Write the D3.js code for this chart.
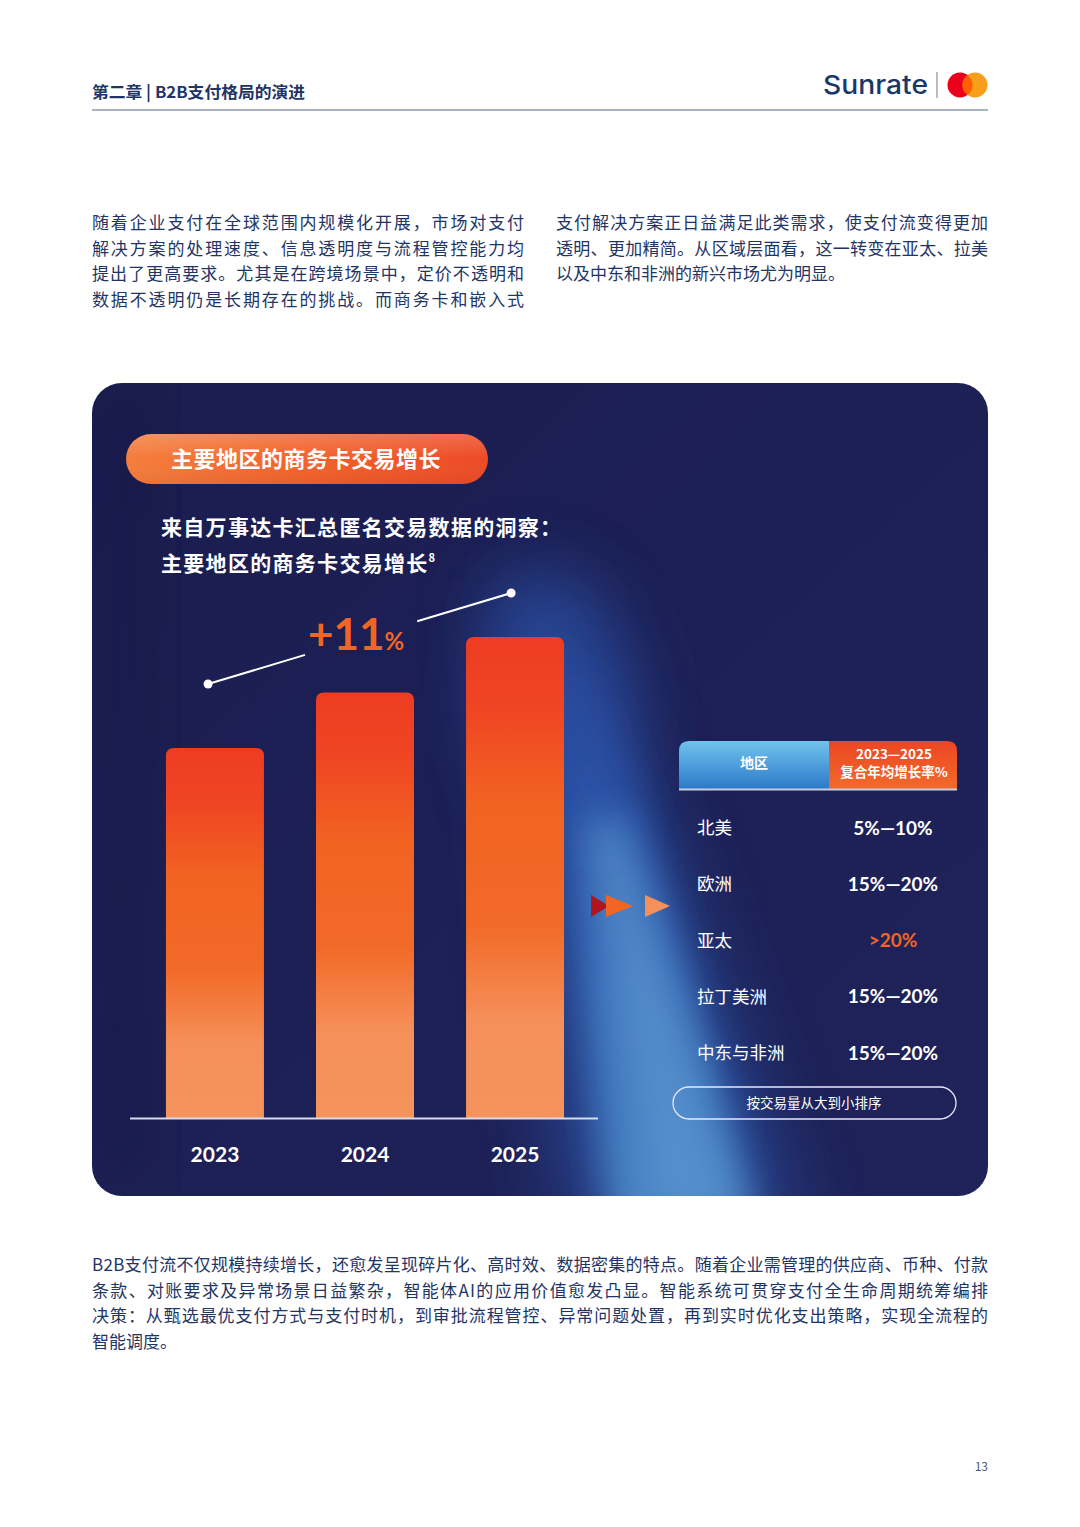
<!DOCTYPE html>
<html><head><meta charset="utf-8">
<script src="https://cdn.jsdelivr.net/npm/d3@7"></script>
<style>
html,body{margin:0;padding:0;background:#fff;}
svg{display:block;font-family:"Noto Sans CJK SC","Noto Sans",sans-serif;}
</style></head>
<body><svg id="c" width="1080" height="1527"></svg>
<script>
// ---------- data ----------
const years = ["2023", "2024", "2025"];
const volumeIndex = [100, 115, 130];          // relative transaction volume (2023 = 100)
const growthLabel = "+11";
const regions = ["北美", "欧洲", "亚太", "拉丁美洲", "中东与非洲"];
const cagr = ["5%—10%", "15%—20%", ">20%", "15%—20%", "15%—20%"];
const highlightRegion = "亚太";
const tableHeaders = ["地区", "2023—2025", "复合年均增长率%"];
const sortNote = "按交易量从大到小排序";
const chapterTitle = "第二章 | B2B支付格局的演进";
const pillTitle = "主要地区的商务卡交易增长";
const subtitleLines = ["来自万事达卡汇总匿名交易数据的洞察：", "主要地区的商务卡交易增长"];
const leftParagraph = [
  "随着企业支付在全球范围内规模化开展，市场对支付",
  "解决方案的处理速度、信息透明度与流程管控能力均",
  "提出了更高要求。尤其是在跨境场景中，定价不透明和",
  "数据不透明仍是长期存在的挑战。而商务卡和嵌入式"];
const rightParagraph = [
  "支付解决方案正日益满足此类需求，使支付流变得更加",
  "透明、更加精简。从区域层面看，这一转变在亚太、拉美",
  "以及中东和非洲的新兴市场尤为明显。"];
const bottomParagraph = [
  "B2B支付流不仅规模持续增长，还愈发呈现碎片化、高时效、数据密集的特点。随着企业需管理的供应商、币种、付款",
  "条款、对账要求及异常场景日益繁杂，智能体AI的应用价值愈发凸显。智能系统可贯穿支付全生命周期统筹编排",
  "决策：从甄选最优支付方式与支付时机，到审批流程管控、异常问题处置，再到实时优化支出策略，实现全流程的",
  "智能调度。"];

// ---------- drawing ----------
const svg = d3.select("#c");
const NAVY = "#1f3566";
const defs = svg.append("defs");

function lg(id, stops, x2 = 0, y2 = 1) {
  const g = defs.append("linearGradient").attr("id", id)
    .attr("x1", 0).attr("y1", 0).attr("x2", x2).attr("y2", y2);
  stops.forEach(s => g.append("stop").attr("offset", s[0]).attr("stop-color", s[1]).attr("stop-opacity", s[2] == null ? 1 : s[2]));
}
lg("barG", [[0, "#ee3c22"], [0.15, "#ef4523"], [0.35, "#f26322"], [0.6, "#f26a28"], [0.8, "#f5905a"], [1, "#f5935c"]]);
lg("pillG", [[0, "#f47d3c"], [0.5, "#f2622b"], [1, "#ec4a26"]], 1, 0);
lg("pillV", [[0, "#ffffff", 0.18], [0.5, "#ffffff", 0], [1, "#000000", 0.05]]);
lg("hdrL", [[0, "#71c3ec"], [1, "#2c79c9"]]);
lg("hdrR", [[0, "#ec4623"], [1, "#f26a2b"]]);
lg("beamG", [[0, "#2f5fb8", 0.0], [0.25, "#2e5cb3", 0.7], [0.6, "#3d74bd"], [1, "#4a86c6"]]);
lg("cardG", [[0, "#1b1d50"], [1, "#1f235a"]], 1, 1);

function blur(id, sd) {
  defs.append("filter").attr("id", id).attr("x", "-50%").attr("y", "-50%").attr("width", "200%").attr("height", "200%")
    .append("feGaussianBlur").attr("stdDeviation", sd);
}
blur("blur40", 38); blur("blur18", 18); blur("blur8", 8);

const card = {x: 92, y: 383, w: 896, h: 813, r: 30};
defs.append("clipPath").attr("id", "cardClip").append("rect")
  .attr("x", card.x).attr("y", card.y).attr("width", card.w).attr("height", card.h).attr("rx", card.r);

// header
svg.append("text").attr("x", 92).attr("y", 98).attr("font-size", 16).attr("font-weight", 700)
  .attr("fill", NAVY).attr("textLength", 213).attr("lengthAdjust", "spacingAndGlyphs").text(chapterTitle);
svg.append("line").attr("x1", 92).attr("x2", 988).attr("y1", 110).attr("y2", 110)
  .attr("stroke", "#8c9bb6").attr("stroke-width", 1.6);
svg.append("text").attr("x", 823).attr("y", 94).attr("font-family", "Inter, Roboto, sans-serif")
  .attr("font-size", 26).attr("font-weight", 500).attr("fill", "#1b3668")
  .attr("textLength", 105).attr("lengthAdjust", "spacingAndGlyphs").text("Sunrate");
svg.append("line").attr("x1", 937).attr("x2", 937).attr("y1", 72).attr("y2", 98).attr("stroke", "#8a8f99").attr("stroke-width", 1.2);
svg.append("circle").attr("cx", 960).attr("cy", 85).attr("r", 12.5).attr("fill", "#eb001b");
svg.append("circle").attr("cx", 975).attr("cy", 85).attr("r", 12.5).attr("fill", "#f79e1b");
defs.append("clipPath").attr("id", "mcClip").append("circle").attr("cx", 960).attr("cy", 85).attr("r", 12.5);
svg.append("circle").attr("cx", 975).attr("cy", 85).attr("r", 12.5).attr("fill", "#ff5f00").attr("clip-path", "url(#mcClip)");

// paragraphs
function para(lines, x, y0, lh, width, lastFull) {
  lines.forEach((t, i) => {
    const tx = svg.append("text").attr("x", x).attr("y", y0 + i * lh).attr("font-size", 17)
      .attr("fill", NAVY).text(t);
    if (i < lines.length - 1 || lastFull) tx.attr("textLength", width).attr("lengthAdjust", "spacing");
  });
}
para(leftParagraph, 92, 229, 25.7, 432, true);
para(rightParagraph, 556, 229, 25.7, 432, false);
para(bottomParagraph, 92, 1271, 25.5, 896, false);

svg.append("text").attr("x", 988).attr("y", 1471).attr("text-anchor", "end").attr("font-size", 12)
  .attr("fill", "#4a5a7a").text("13");

// card
const cg = svg.append("g").attr("clip-path", "url(#cardClip)");
cg.append("rect").attr("x", card.x).attr("y", card.y).attr("width", card.w).attr("height", card.h).attr("fill", "url(#cardG)");
// light beam
cg.append("path").attr("d", "M490,580 L570,580 L800,1230 L570,1230 Z").attr("fill", "#2a52a8").attr("opacity", 0.75).attr("filter", "url(#blur40)");
cg.append("path").attr("d", "M545,660 L600,660 L760,1230 L610,1230 Z").attr("fill", "url(#beamG)").attr("filter", "url(#blur18)");
cg.append("path").attr("d", "M585,820 L625,820 L730,1210 L655,1210 Z").attr("fill", "#5b95cf").attr("opacity", 0.7).attr("filter", "url(#blur18)");
cg.append("ellipse").attr("cx", 560).attr("cy", 700).attr("rx", 70).attr("ry", 110).attr("fill", "#2a4fa6").attr("opacity", 0.55).attr("filter", "url(#blur40)");
cg.append("rect").attr("x", card.x).attr("y", card.y).attr("width", 60).attr("height", card.h).attr("fill", "#12153e").attr("opacity", 0.35).attr("filter", "url(#blur40)");

// title pill
svg.append("rect").attr("x", 126).attr("y", 434).attr("width", 362).attr("height", 50).attr("rx", 25).attr("fill", "url(#pillG)");
svg.append("rect").attr("x", 126).attr("y", 434).attr("width", 362).attr("height", 50).attr("rx", 25).attr("fill", "url(#pillV)");
svg.append("text").attr("x", 306).attr("y", 467).attr("text-anchor", "middle").attr("font-size", 22)
  .attr("font-weight", 700).attr("fill", "#fff").attr("letter-spacing", 0.5).text(pillTitle);

// subtitle
svg.append("text").attr("x", 161).attr("y", 535).attr("font-size", 21).attr("font-weight", 700)
  .attr("letter-spacing", 1.3).attr("fill", "#fff").text(subtitleLines[0]);
const st2 = svg.append("text").attr("x", 161).attr("y", 571).attr("font-size", 21).attr("font-weight", 700)
  .attr("letter-spacing", 1.3).attr("fill", "#fff");
st2.append("tspan").text(subtitleLines[1]);
st2.append("tspan").attr("font-size", 11).attr("dy", -9).text("8");

// bar chart
const x = d3.scaleBand().domain(years).range([140, 590]).paddingInner(0.347).paddingOuter(0.173);
const y = d3.scaleLinear().domain([0, 130]).range([1118, 637]);
const bw = x.bandwidth(), rr = 8;
svg.append("g").selectAll("path").data(years).join("path")
  .attr("fill", "url(#barG)")
  .attr("d", (d, i) => {
    const x0 = x(d), x1 = x0 + bw, yt = y(volumeIndex[i]), yb = y(0);
    return `M${x0},${yb} L${x0},${yt + rr} Q${x0},${yt} ${x0 + rr},${yt} L${x1 - rr},${yt} Q${x1},${yt} ${x1},${yt + rr} L${x1},${yb} Z`;
  });
svg.append("line").attr("x1", 130).attr("x2", 598).attr("y1", y(0) + 0.5).attr("y2", y(0) + 0.5)
  .attr("stroke", "#d8dcea").attr("stroke-width", 2);
const ax = svg.append("g").attr("transform", `translate(0,${y(0) + 29})`)
  .call(d3.axisBottom(x).tickSize(0).tickPadding(0));
ax.select(".domain").remove();
ax.selectAll("text").attr("font-size", 21).attr("font-weight", 700).attr("fill", "#fff")
  .attr("font-family", "Lato, 'Noto Sans', sans-serif").attr("dy", "0.71em");

// trend line
const cx0 = x(years[0]) + bw * 0.43, cy0 = y(volumeIndex[0]) - 64;
const cx1 = x(years[2]) + bw * 0.46, cy1 = y(volumeIndex[2]) - 44;
const t1 = 0.32, t2 = 0.69;
const lerp = (a, b, t) => a + (b - a) * t;
svg.append("line").attr("x1", cx0).attr("y1", cy0).attr("x2", lerp(cx0, cx1, t1)).attr("y2", lerp(cy0, cy1, t1))
  .attr("stroke", "#fff").attr("stroke-width", 2);
svg.append("line").attr("x1", lerp(cx0, cx1, t2)).attr("y1", lerp(cy0, cy1, t2)).attr("x2", cx1).attr("y2", cy1)
  .attr("stroke", "#fff").attr("stroke-width", 2);
svg.selectAll("circle.dot").data([[cx0, cy0], [cx1, cy1]]).join("circle").attr("class", "dot")
  .attr("cx", d => d[0]).attr("cy", d => d[1]).attr("r", 4.5).attr("fill", "#fff");
const gt = svg.append("text").attr("x", 308).attr("y", 650).attr("fill", "#f26522").attr("font-weight", 700)
  .attr("font-family", "Lato, 'Noto Sans', sans-serif");
gt.append("tspan").attr("font-size", 44).text(growthLabel);
gt.append("tspan").attr("font-size", 24).text("%");

// arrows
const arrows = [[591, 609, "#b0141c"], [606, 633, "#f26522"], [645, 670, "#f5905a"]];
svg.selectAll("path.arr").data(arrows).join("path").attr("class", "arr")
  .attr("d", d => `M${d[0]},895 L${d[1]},906 L${d[0]},917 Z`).attr("fill", d => d[2]);

// table header
const tx0 = 679, tmid = 829, tx1 = 957, ty0 = 741, ty1 = 789, tr = 10;
svg.append("path").attr("d", `M${tx0},${ty1} L${tx0},${ty0 + tr} Q${tx0},${ty0} ${tx0 + tr},${ty0} L${tmid},${ty0} L${tmid},${ty1} Z`)
  .attr("fill", "url(#hdrL)");
svg.append("path").attr("d", `M${tmid},${ty1} L${tmid},${ty0} L${tx1 - tr},${ty0} Q${tx1},${ty0} ${tx1},${ty0 + tr} L${tx1},${ty1} Z`)
  .attr("fill", "url(#hdrR)");
svg.append("line").attr("x1", tx0).attr("x2", tx1).attr("y1", ty1 + 0.5).attr("y2", ty1 + 0.5)
  .attr("stroke", "#c9cde0").attr("stroke-width", 2);
svg.append("text").attr("x", (tx0 + tmid) / 2).attr("y", 768).attr("text-anchor", "middle")
  .attr("font-size", 14).attr("font-weight", 700).attr("fill", "#fff").text(tableHeaders[0]);
svg.append("text").attr("x", (tmid + tx1) / 2 + 1).attr("y", 759).attr("text-anchor", "middle")
  .attr("font-size", 13.5).attr("font-weight", 700).attr("fill", "#fff").text(tableHeaders[1]);
svg.append("text").attr("x", (tmid + tx1) / 2 + 1).attr("y", 777).attr("text-anchor", "middle")
  .attr("font-size", 13.5).attr("font-weight", 700).attr("fill", "#fff").text(tableHeaders[2]);

// table rows
const ry = d3.scalePoint().domain(regions).range([828, 1053]);
const rows = svg.append("g").selectAll("g").data(regions).join("g")
  .attr("transform", d => `translate(0,${ry(d)})`);
rows.append("text").attr("x", 697).attr("dy", "0.35em").attr("font-size", 17.5).attr("fill", "#fff").text(d => d);
rows.append("text").attr("x", 893).attr("dy", "0.35em").attr("text-anchor", "middle").attr("font-size", 19)
  .attr("font-weight", 700).attr("font-family", "Lato, 'Noto Sans', sans-serif")
  .attr("fill", d => d === highlightRegion ? "#f26522" : "#fff")
  .text((d, i) => cagr[i]);

// sort note
svg.append("rect").attr("x", 673).attr("y", 1087).attr("width", 283).attr("height", 32).attr("rx", 16)
  .attr("fill", "none").attr("stroke", "#e6e9f5").attr("stroke-width", 1.3);
svg.append("text").attr("x", 814).attr("y", 1108).attr("text-anchor", "middle").attr("font-size", 13.5)
  .attr("fill", "#fff").text(sortNote);
</script></body></html>
